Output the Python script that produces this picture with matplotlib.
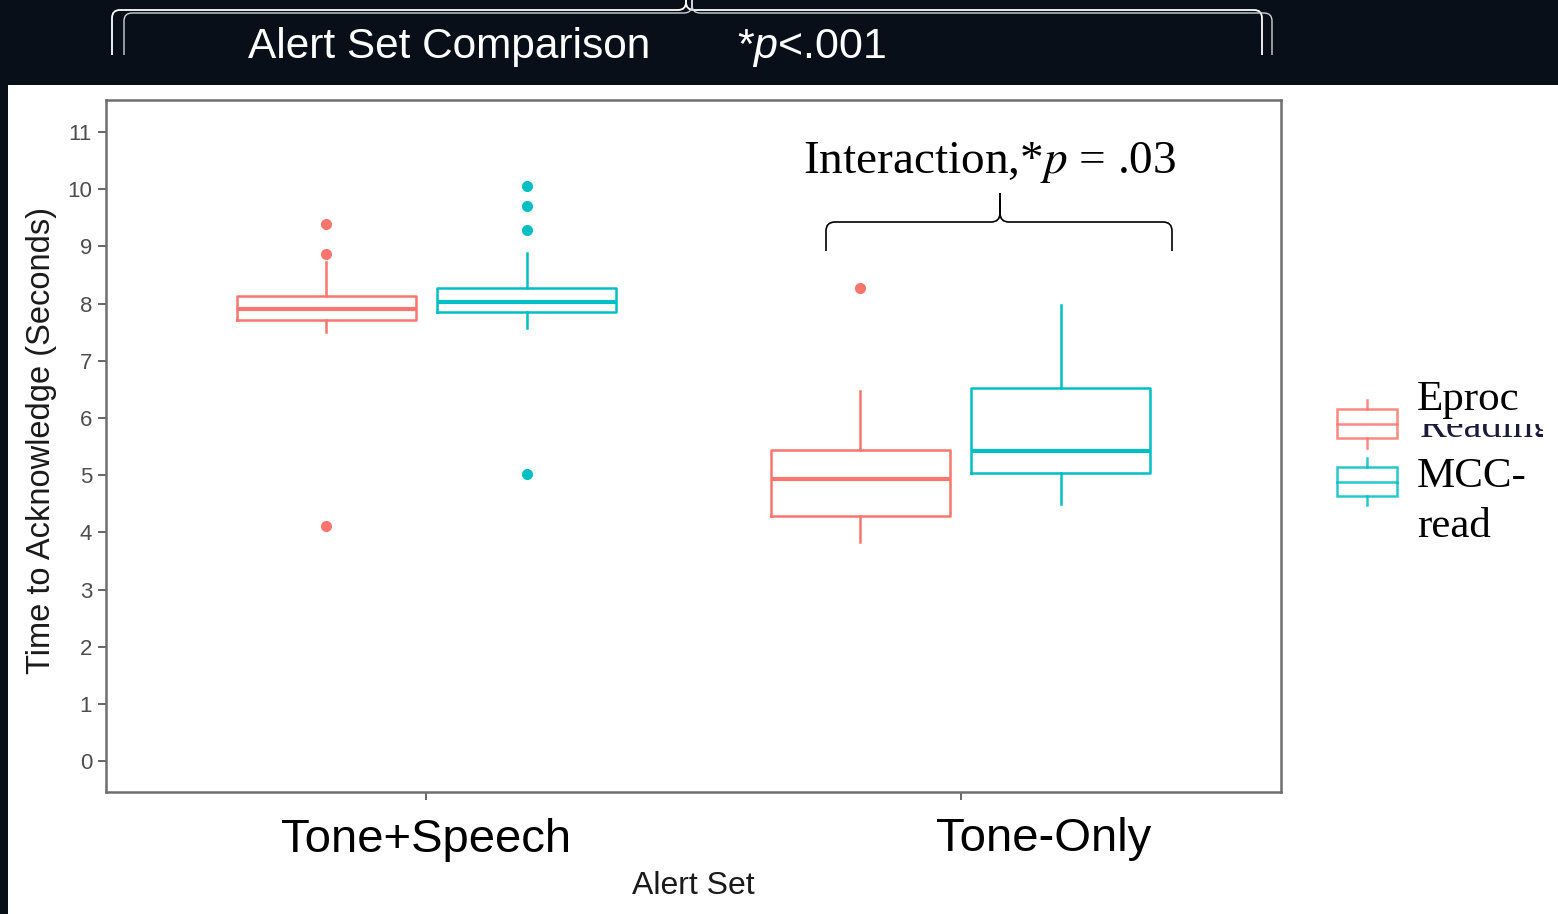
import matplotlib
matplotlib.use("Agg")
import matplotlib.pyplot as plt
from matplotlib.path import Path
from matplotlib.patches import PathPatch, Rectangle
from matplotlib.transforms import ScaledTranslation

plt.rcParams['font.family'] = ['Liberation Sans', 'DejaVu Sans']
plt.rcParams['mathtext.fontset'] = 'custom'
plt.rcParams['mathtext.it'] = 'Liberation Sans:italic'
plt.rcParams['mathtext.rm'] = 'Liberation Sans'

# ---------------- data ----------------
categories = ["Tone+Speech", "Tone-Only"]
groups = ["Eproc", "MCC-read"]
colors = ["#F8766D", "#00BFC4"]

# box statistics [whislo, q1, median, q3, whishi] per category, per group
eproc_stats = [[7.50, 7.71, 7.90, 8.13, 8.73],
               [3.83, 4.28, 4.93, 5.44, 6.47]]
mcc_stats = [[7.57, 7.85, 8.03, 8.27, 8.88],
             [4.49, 5.04, 5.42, 6.52, 7.97]]
eproc_outliers = [[9.39, 8.87, 4.11], [8.27]]
mcc_outliers = [[10.06, 9.71, 9.29, 5.02], []]

y_ticks = list(range(0, 12))

W, H = 1558, 914
DARK = "#080f18"

fig = plt.figure(figsize=(W / 100, H / 100), dpi=100)
fig.patch.set_facecolor(DARK)

# overlay in pixel coords
ov = fig.add_axes([0, 0, 1, 1], zorder=0)
ov.set_xlim(0, W)
ov.set_ylim(H, 0)
ov.axis("off")
ov.add_patch(Rectangle((8, 85), W - 8, H - 85, facecolor="white", edgecolor="none"))

# main axes
L, R, T, B = 106, 1281, 100, 792
ax = fig.add_axes([L / W, 1 - B / H, (R - L) / W, (B - T) / H], zorder=2)
ax.set_facecolor("white")
ax.set_xlim(0.4, 2.6)
ax.set_ylim(-0.54, 11.56)

offset = 0.1875
bw = 0.336
all_stats = [eproc_stats, mcc_stats]
all_out = [eproc_outliers, mcc_outliers]
for gi in range(2):
    sign = -1 if gi == 0 else 1
    stats = []
    for ci in range(2):
        s = all_stats[gi][ci]
        stats.append(dict(whislo=s[0], q1=s[1], med=s[2], q3=s[3], whishi=s[4],
                          fliers=all_out[gi][ci]))
    pos = [ci + 1 + sign * offset for ci in range(2)]
    c = colors[gi]
    ax.bxp(stats, positions=pos, widths=bw, showcaps=False, patch_artist=False,
           boxprops=dict(color=c, linewidth=1.8),
           whiskerprops=dict(color=c, linewidth=1.8),
           medianprops=dict(color=c, linewidth=3.0),
           flierprops=dict(marker="o", markerfacecolor=c, markeredgecolor=c,
                           markersize=7, linestyle="none"),
           manage_ticks=False)

ax.set_xticks([1, 2])
# first label sits on its tick; the second is shifted right in the reference
ax.set_xticklabels([categories[0], ""], fontsize=34, color="black")
ax.text(2, 0, categories[1], fontsize=34, color="black", ha="center", va="top",
        transform=ax.get_xaxis_transform()
        + ScaledTranslation(0.83, -0.25, fig.dpi_scale_trans))
ax.set_yticks(y_ticks)
ax.set_yticklabels([str(v) for v in y_ticks], fontsize=16, color="#4d4d4d")
ax.tick_params(axis="both", length=6, width=1.2, color="#4d4d4d")
ax.tick_params(axis="x", pad=13)
ax.tick_params(axis="y", pad=4)
for sp in ax.spines.values():
    sp.set_color("#6e6e6e")
    sp.set_linewidth(1.8)
ax.set_xlabel("Alert Set", fontsize=23, color="#1a1a1a", labelpad=6)
ax.set_ylabel("Time to Acknowledge (Seconds)", fontsize=23.5, color="#1a1a1a")
ax.yaxis.set_label_coords((57 - L) / (R - L), (B - 440.5) / (B - T))

# overlay on top for annotations
ov2 = fig.add_axes([0, 0, 1, 1], zorder=3)
ov2.set_xlim(0, W)
ov2.set_ylim(H, 0)
ov2.axis("off")
ov2.patch.set_alpha(0)


def brace(axh, x0, x1, xm, ytop, ybot, ytip, r, **kw):
    verts = [(x0, ybot), (x0, ytop + r), (x0, ytop), (x0 + r, ytop),
             (xm - r, ytop), (xm, ytop), (xm, ytop - r), (xm, ytip),
             (xm, ytip), (xm, ytop - r), (xm, ytop), (xm + r, ytop),
             (x1 - r, ytop), (x1, ytop), (x1, ytop + r), (x1, ybot)]
    codes = [Path.MOVETO, Path.LINETO, Path.CURVE3, Path.CURVE3,
             Path.LINETO, Path.CURVE3, Path.CURVE3, Path.LINETO,
             Path.MOVETO, Path.LINETO, Path.CURVE3, Path.CURVE3,
             Path.LINETO, Path.CURVE3, Path.CURVE3, Path.LINETO]
    axh.add_patch(PathPatch(Path(verts, codes), fill=False, **kw))


# top brace (double line)
brace(ov2, 112, 1262, 686, 10, 55, -2, 8, edgecolor="white", linewidth=1.3)
brace(ov2, 124, 1272, 692, 13, 55, -2, 8, edgecolor="#cfd3d8", linewidth=1.0)

ov2.text(248, 58, "Alert Set Comparison", fontsize=30.5, color="white",
         ha="left", va="baseline")
ov2.text(737, 58, r"*$p$<.001", fontsize=31, color="white",
         ha="left", va="baseline")

# interaction brace
brace(ov2, 826, 1172, 1000, 222, 251, 193, 9, edgecolor="black", linewidth=1.2)
ov2.text(990, 173, r"Interaction,*$p$ = .03", fontsize=34,
         family="Liberation Serif", math_fontfamily="stix", color="black",
         ha="center", va="baseline")

# legend
lx0, lx1 = 1337, 1397
lxm = (lx0 + lx1) / 2
leg_items = [(400, 409, 438, 448, 424), (458, 467, 496, 505, 482)]
for gi, (wt, bt, bb, wb, md) in enumerate(leg_items):
    c = colors[gi]
    ov2.add_patch(Rectangle((lx0, bt), lx1 - lx0, bb - bt, fill=False,
                            edgecolor=c, linewidth=1.8, alpha=0.85))
    ov2.plot([lx0, lx1], [md, md], color=c, linewidth=1.8, alpha=0.85)
    ov2.plot([lxm, lxm], [wt, bt], color=c, linewidth=1.8, alpha=0.85)
    ov2.plot([lxm, lxm], [bb, wb], color=c, linewidth=1.8, alpha=0.85)

ov2.text(1417, 410, "Eproc", fontsize=31, family="Liberation Serif",
         color="black", ha="left", va="baseline")
rd = ov2.text(1420, 437, "Reading", fontsize=29, family="Liberation Serif",
              color="#1a1a3a", ha="left", va="baseline", clip_on=True)
clip = Rectangle((1410, 424), 133, 13, transform=ov2.transData)
rd.set_clip_path(clip)
ov2.text(1417, 487, "MCC-", fontsize=31, family="Liberation Serif",
         color="black", ha="left", va="baseline")
ov2.text(1417, 537, "read", fontsize=31, family="Liberation Serif",
         color="black", ha="left", va="baseline")

fig.savefig("out.png", dpi=100, facecolor=fig.get_facecolor())
